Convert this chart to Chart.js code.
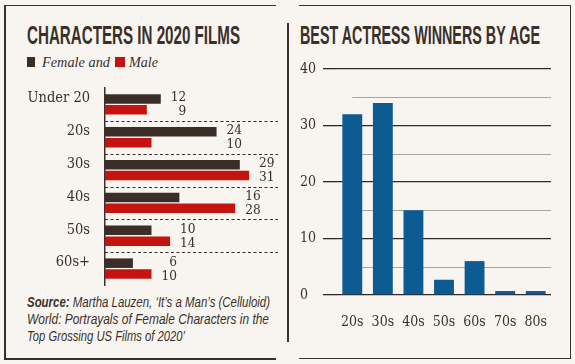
<!DOCTYPE html>
<html><head><meta charset="utf-8">
<script src="https://cdn.jsdelivr.net/npm/chart.js@4.4.1/dist/chart.umd.min.js"></script>
<style>
html,body{margin:0;padding:0;background:#f8f5f0;}
body{width:575px;height:364px;position:relative;overflow:hidden;font-family:"Liberation Serif",serif;color:#3a302b;}
.abs{position:absolute;white-space:nowrap;display:inline-block;transform-origin:0 0;}
.ln{position:absolute;background:#3a302b;}
.title{font-family:"Liberation Sans Narrow","Liberation Sans",sans-serif;font-weight:bold;font-size:25px;line-height:25px;}
.leg{font-style:italic;font-size:15px;line-height:15px;}
.src{font-family:"Liberation Sans Narrow","Liberation Sans",sans-serif;font-style:italic;font-size:15px;line-height:17px;}
canvas{position:absolute;}
</style>
</head>
<body>
<div class="ln" style="left:4px;top:4.5px;width:272px;height:1.5px"></div>
<div class="ln" style="left:4px;top:4.5px;width:1.5px;height:355px"></div>
<div class="ln" style="left:4px;top:358px;width:272px;height:1.5px"></div>
<div class="ln" style="left:287px;top:23px;width:1.5px;height:319px"></div>
<div class="ln" style="left:299px;top:4.5px;width:271.5px;height:1.5px"></div>
<div class="ln" style="left:569.5px;top:4.5px;width:1.5px;height:354px"></div>
<div class="ln" style="left:299px;top:357.5px;width:272px;height:1.5px"></div>

<div class="abs title" id="t1" data-w="213" style="left:27px;top:23px">CHARACTERS IN 2020 FILMS</div>
<div class="abs title" id="t2" data-w="240" style="left:300px;top:23px">BEST ACTRESS WINNERS BY AGE</div>

<div class="abs" style="left:27px;top:57px;width:8px;height:10px;background:#3b2d28"></div>
<div class="abs leg" data-w="68" style="left:42px;top:54.5px">Female and</div>
<div class="abs" style="left:114.5px;top:57px;width:10px;height:10px;background:#c5130f"></div>
<div class="abs leg" data-w="29" style="left:129px;top:54.5px">Male</div>

<div class="abs src" data-w="243" style="left:27px;top:292.5px"><b>Source:</b> Martha Lauzen, ‘It’s a Man’s (Celluloid)</div>
<div class="abs src" data-w="242" style="left:27px;top:309.5px">World: Portrayals of Female Characters in the</div>
<div class="abs src" data-w="158" style="left:27px;top:326.5px">Top Grossing US Films of 2020’</div>

<canvas id="c1" width="287" height="215" style="left:0;top:80px"></canvas>
<canvas id="c2" width="282" height="280" style="left:288px;top:55px"></canvas>

<script>
// ---- data ----
const ageGroups = ['Under 20', '20s', '30s', '40s', '50s', '60s+'];
const femaleChars = [12, 24, 29, 16, 10, 6];
const maleChars = [9, 10, 31, 28, 14, 10];

const winnerAges = ['20s', '30s', '40s', '50s', '60s', '70s', '80s'];
const winnerCounts = [32, 34, 15, 2.7, 6, 0.7, 0.7];
const winnerTicks = [0, 10, 20, 30, 40];
const winnerMinor = [5, 15, 25, 35];

const INK = '#3a302b';
const FEMALE = '#3b2d28';
const MALE = '#c5130f';
const BLUE = '#0d5b93';
const LABEL_FONT = '"DejaVu Serif Condensed", "Liberation Serif", serif';

// fit text widths
document.querySelectorAll('[data-w]').forEach(el => {
  const w = el.getBoundingClientRect().width;
  el.style.transform = 'scaleX(' + (parseFloat(el.dataset.w) / w) + ')';
});

Chart.defaults.animation = false;
Chart.defaults.font.family = LABEL_FONT;
Chart.defaults.color = INK;

const separators = {
  id: 'separators',
  beforeDatasetsDraw(chart) {
    const {ctx, chartArea, scales: {y}} = chart;
    ctx.save();
    ctx.strokeStyle = INK;
    ctx.lineWidth = 1;
    ctx.setLineDash([3, 2.5]);
    for (let i = 1; i < ageGroups.length; i++) {
      const yy = Math.round((y.getPixelForValue(i - 1) + y.getPixelForValue(i)) / 2) + 0.5;
      ctx.beginPath();
      ctx.moveTo(chartArea.left, yy);
      ctx.lineTo(chartArea.right + 1, yy);
      ctx.stroke();
    }
    ctx.restore();
  }
};

const valueLabels = {
  id: 'valueLabels',
  afterDatasetsDraw(chart) {
    const {ctx, scales: {x}} = chart;
    const m0 = chart.getDatasetMeta(0), m1 = chart.getDatasetMeta(1);
    ctx.save();
    ctx.font = '13.5px ' + LABEL_FONT;
    ctx.fillStyle = INK;
    ctx.textAlign = 'right';
    ctx.textBaseline = 'middle';
    for (let i = 0; i < ageGroups.length; i++) {
      const f = femaleChars[i], m = maleChars[i];
      const end = x.getPixelForValue(Math.max(f, m));
      const widest = Math.max(ctx.measureText(String(f)).width, ctx.measureText(String(m)).width);
      const xx = end + 10 + widest;
      ctx.fillText(String(f), xx, m0.data[i].y - 1);
      ctx.fillText(String(m), xx, m1.data[i].y + 2);
    }
    ctx.restore();
  }
};

new Chart(document.getElementById('c1'), {
  type: 'bar',
  data: {
    labels: ageGroups,
    datasets: [
      {label: 'Female', data: femaleChars, backgroundColor: FEMALE},
      {label: 'Male', data: maleChars, backgroundColor: MALE}
    ]
  },
  options: {
    indexAxis: 'y',
    responsive: false,
    devicePixelRatio: 1,
    layout: {padding: {left: 0, right: 10, top: 8, bottom: 10}},
    categoryPercentage: 0.66,
    barPercentage: 0.88,
    plugins: {legend: {display: false}, tooltip: {enabled: false}},
    scales: {
      x: {display: false, min: 0, max: 37},
      y: {
        afterFit(s) { s.width = 105; s.paddingTop = 0; s.paddingBottom = 0; },
        grid: {display: false, drawTicks: false},
        border: {display: true, color: INK, width: 1.5},
        ticks: {font: {size: 14.5}, color: INK, padding: 15, labelOffset: -6}
      }
    }
  },
  plugins: [separators, valueLabels]
});

const minorGrid = {
  id: 'minorGrid',
  beforeDatasetsDraw(chart) {
    const {ctx, chartArea, scales: {x, y}} = chart;
    ctx.save();
    ctx.strokeStyle = '#a9a49e';
    ctx.lineWidth = 1;
    winnerMinor.forEach(v => {
      const yy = Math.round(y.getPixelForValue(v)) + 0.5;
      ctx.beginPath();
      ctx.moveTo(x.getPixelForValue(0), yy);
      ctx.lineTo(chartArea.right, yy);
      ctx.stroke();
    });
    ctx.restore();
  }
};

new Chart(document.getElementById('c2'), {
  type: 'bar',
  data: {
    labels: winnerAges,
    datasets: [{label: 'Winners', data: winnerCounts, backgroundColor: BLUE}]
  },
  options: {
    responsive: false,
    devicePixelRatio: 1,
    layout: {padding: {left: 12, right: 19, top: 14, bottom: 0}},
    categoryPercentage: 1,
    barPercentage: 0.65,
    plugins: {legend: {display: false}, tooltip: {enabled: false}},
    scales: {
      x: {
        afterFit(s) { s.height = 40; },
        grid: {display: false},
        border: {display: false},
        ticks: {font: {size: 14}, color: INK, padding: 11}
      },
      y: {
        min: 0, max: 40,
        afterFit(s) { s.width = 37; },
        afterBuildTicks(s) { s.ticks = winnerTicks.map(v => ({value: v})); },
        grid: {color: '#2f2824', lineWidth: 1.3, tickLength: 14, drawTicks: true},
        border: {display: false},
        ticks: {font: {size: 14}, color: INK, crossAlign: 'far', padding: 0}
      }
    }
  },
  plugins: [minorGrid]
});
</script>
</body></html>
